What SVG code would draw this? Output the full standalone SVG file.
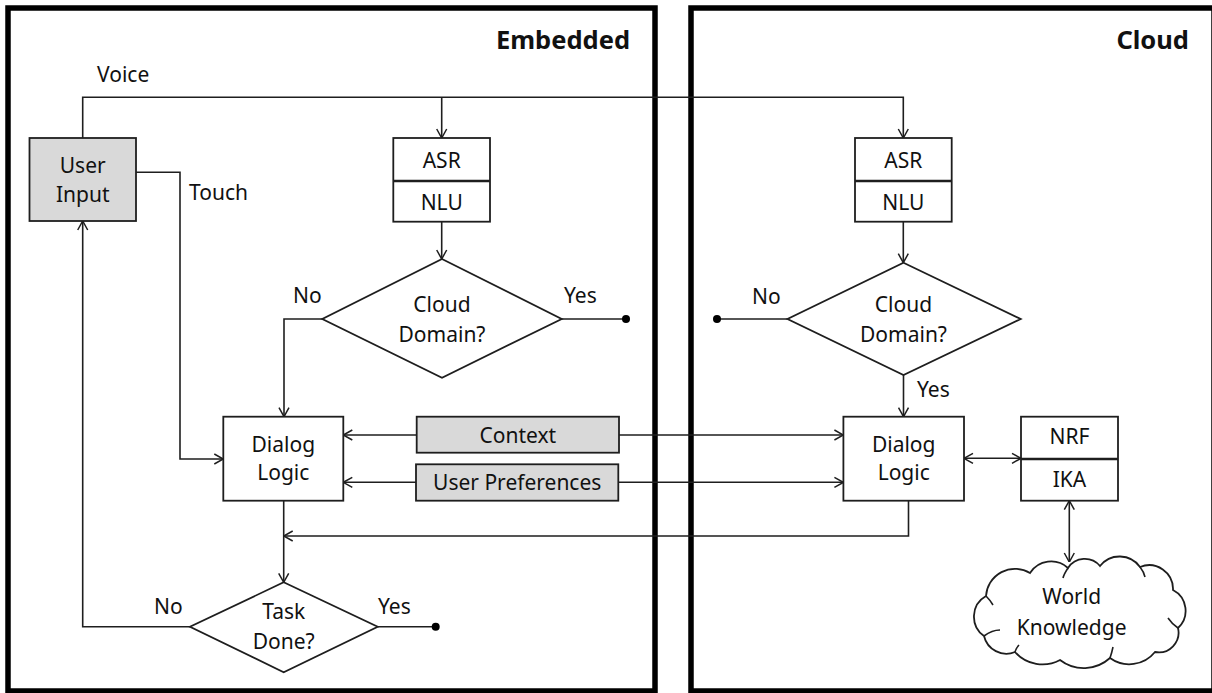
<svg xmlns="http://www.w3.org/2000/svg" width="1212" height="693" viewBox="0 0 1212 693">
  <style>
    .frame { fill: none; stroke: #000; stroke-width: 5.5; }
    .box { fill: #fff; stroke: #1e1e1e; stroke-width: 1.8; }
    .grey { fill: #d9d9d9; stroke: #1e1e1e; stroke-width: 1.8; }
    .split { stroke: #1e1e1e; stroke-width: 2.6; }
    .wire { fill: none; stroke: #1e1e1e; stroke-width: 1.6; marker-end: url(#arr); }
    .plain { fill: none; stroke: #1e1e1e; stroke-width: 1.6; }
    .both { fill: none; stroke: #1e1e1e; stroke-width: 1.6; marker-start: url(#arr); marker-end: url(#arr); }
    .dot { fill: #000; }
    text { font-family: "Noto Sans", "Open Sans", "Liberation Sans", sans-serif; font-size: 21px; fill: #111; }
    .c { text-anchor: middle; }
    .title { font-size: 25.5px; font-weight: bold; text-anchor: end; }
  </style>
  <defs>
    <marker id="arr" viewBox="0 0 10 12" refX="10" refY="6" markerWidth="10" markerHeight="12" markerUnits="userSpaceOnUse" orient="auto-start-reverse">
      <path d="M1,1 L10,6 L1,11" fill="none" stroke="#1e1e1e" stroke-width="1.5"/>
    </marker>
  </defs>

  <rect width="1212" height="693" fill="#fff"/>

  <!-- two deployment areas -->
  <g id="embedded-area">
    <rect class="frame" x="8" y="8" width="647" height="683"/>
    <text class="title" x="630" y="49">Embedded</text>
  </g>
  <g id="cloud-area">
    <rect class="frame" x="691" y="8" width="523" height="683"/>
    <text class="title" x="1189" y="49">Cloud</text>
  </g>

  <!-- connectors -->
  <g id="connectors">
    <path class="wire" d="M82.7,138 V97.3 H903.3 V138"/>
    <path class="wire" d="M441.7,97.3 V138"/>
    <path class="wire" d="M136,172.3 H180 V459 H223.3"/>
    <path class="wire" d="M441.7,221.7 V259"/>
    <path class="wire" d="M322.3,319 H284 V416.7"/>
    <path class="plain" d="M561.7,319 H626"/>
    <circle class="dot" cx="626" cy="319" r="4"/>
    <path class="wire" d="M416.7,435 H343.3"/>
    <path class="wire" d="M619,435 H843.4"/>
    <path class="wire" d="M416,482.3 H343.3"/>
    <path class="wire" d="M618.3,482.3 H843.4"/>
    <path class="wire" d="M903.3,221.7 V262.7"/>
    <path class="plain" d="M787.5,319 H717"/>
    <circle class="dot" cx="717" cy="319" r="4"/>
    <path class="wire" d="M903.5,375 V416.7"/>
    <path class="both" d="M964,458.3 H1021"/>
    <path class="wire" d="M908.5,500.7 V536 H283.7"/>
    <path class="wire" d="M283.7,500.7 V582.3"/>
    <path class="wire" d="M190,626.7 H82.7 V221"/>
    <path class="plain" d="M377.7,626.7 H435.7"/>
    <circle class="dot" cx="435.7" cy="626.7" r="4"/>
    <path class="both" d="M1069.3,500.7 V562"/>
    <text x="97" y="82">Voice</text>
    <text x="189" y="200">Touch</text>
    <text x="293" y="303">No</text>
    <text x="564" y="303">Yes</text>
    <text x="752" y="304">No</text>
    <text x="917" y="397">Yes</text>
    <text x="154" y="614">No</text>
    <text x="378" y="614">Yes</text>
  </g>

  <g id="user-input">
    <rect class="grey" x="29.5" y="138" width="106.5" height="83"/>
    <text class="c" x="82.7" y="173">User</text>
    <text class="c" x="82.7" y="202">Input</text>
  </g>

  <g id="asr-nlu-embedded">
    <rect class="box" x="393.3" y="138" width="96.7" height="83.7"/>
    <line class="split" x1="393.3" y1="181" x2="490" y2="181"/>
    <text class="c" x="441.7" y="168">ASR</text>
    <text class="c" x="441.7" y="210">NLU</text>
  </g>

  <g id="cloud-domain-embedded">
    <polygon class="box" points="442,259 561.7,319 442,377.7 322.3,319"/>
    <text class="c" x="442" y="311.7">Cloud</text>
    <text class="c" x="442" y="341.7">Domain?</text>
  </g>

  <g id="dialog-logic-embedded">
    <rect class="box" x="223.3" y="416.7" width="120" height="84"/>
    <text class="c" x="283.3" y="452">Dialog</text>
    <text class="c" x="283.3" y="480">Logic</text>
  </g>

  <g id="context">
    <rect class="grey" x="416.7" y="416.7" width="202.3" height="36"/>
    <text class="c" x="517.8" y="442.5">Context</text>
  </g>

  <g id="user-preferences">
    <rect class="grey" x="416" y="464.3" width="202.3" height="36.4"/>
    <text class="c" x="517.2" y="490">User Preferences</text>
  </g>

  <g id="task-done">
    <polygon class="box" points="283.7,582.3 377.7,626.7 283.7,672.3 190,626.7"/>
    <text class="c" x="283.7" y="619.3">Task</text>
    <text class="c" x="283.7" y="649.3">Done?</text>
  </g>

  <g id="asr-nlu-cloud">
    <rect class="box" x="855" y="138" width="96.7" height="83.7"/>
    <line class="split" x1="855" y1="181" x2="951.7" y2="181"/>
    <text class="c" x="903.3" y="168">ASR</text>
    <text class="c" x="903.3" y="210">NLU</text>
  </g>

  <g id="cloud-domain-cloud">
    <polygon class="box" points="903.5,262.7 1020.7,319 903.5,375 787.5,319"/>
    <text class="c" x="903.5" y="311.7">Cloud</text>
    <text class="c" x="903.5" y="341.7">Domain?</text>
  </g>

  <g id="dialog-logic-cloud">
    <rect class="box" x="843.4" y="416.7" width="120.6" height="84"/>
    <text class="c" x="903.7" y="452">Dialog</text>
    <text class="c" x="903.7" y="480">Logic</text>
  </g>

  <g id="nrf-ika">
    <rect class="box" x="1021" y="416.7" width="97" height="84"/>
    <line class="split" x1="1021" y1="459" x2="1118" y2="459"/>
    <text class="c" x="1069.5" y="444">NRF</text>
    <text class="c" x="1069.5" y="487">IKA</text>
  </g>

  <g id="world-knowledge">
    <path class="box" d="M984,636 A23.7,23.7 0 0 1 986,596 A29,29 0 0 1 1030,573 A25,25 0 0 1 1068,568 A20,20 0 0 1 1100,566 A25,25 0 0 1 1140,567 A23.9,23.9 0 0 1 1173,590 A23.4,23.4 0 0 1 1178,628 A19.8,19.8 0 0 1 1155,652 A33,33 0 0 1 1110,658 A39,39 0 0 1 1060,660 A36.8,36.8 0 0 1 1015,652 A23,23 0 0 1 984,636 Z"/>
    <path class="plain" d="M984,636 Q992,630 1000,630 M986,596 Q990,600 993,605 M1068,568 Q1064,574 1063,578 M1140,567 Q1144,572 1145,577 M1178,628 Q1172,624 1168,618 M1110,658 Q1112,652 1113,647 M1015,652 Q1016,648 1019,645"/>
    <text class="c" x="1071.7" y="604">World</text>
    <text class="c" x="1071.7" y="635">Knowledge</text>
  </g>
</svg>
